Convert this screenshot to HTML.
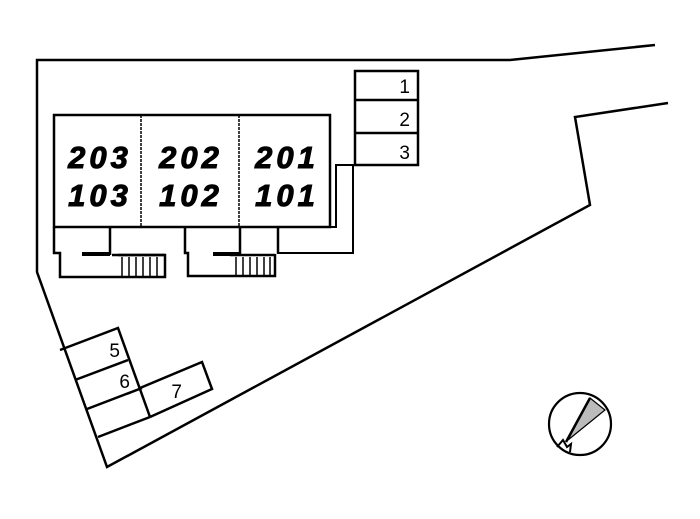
<!DOCTYPE html>
<html><head><style>body{margin:0;background:#fff}svg{display:block}</style></head><body>
<svg width="700" height="519" viewBox="0 0 700 519" xmlns="http://www.w3.org/2000/svg">
<g fill="none" stroke="#000" stroke-width="2.5" stroke-linejoin="miter">
<polyline points="655,45 510,60 37,60 37,272 107,467 590,205 575,117 668,103"/>
<polyline points="60,350 118,328 150,417"/>
<line x1="75" y1="380" x2="128" y2="360"/>
<line x1="87" y1="409" x2="142" y2="388"/>
<line x1="98" y1="437" x2="150" y2="417"/>
<polyline points="140,388 202,362 212,389 150,417"/>
<rect x="355" y="71" width="63" height="94"/>
<line x1="355" y1="100" x2="418" y2="100"/>
<line x1="355" y1="133" x2="418" y2="133"/>
<rect x="54" y="115" width="276" height="112"/>
<line x1="141" y1="115" x2="141" y2="227" stroke-width="1.5" stroke-dasharray="3,1"/>
<line x1="239" y1="115" x2="239" y2="227" stroke-width="1.5" stroke-dasharray="3,1"/>
<polyline points="330,227 336,227 336,165 355,165" stroke-width="2"/>
<polyline points="353,165 353,253 278,253" stroke-width="2"/>
<polyline points="54,227 54,253 60,253 60,277 165,277 165,255 112,255"/>
<line x1="110" y1="227" x2="110" y2="255"/>
<polyline points="185,227 185,253 188,253 188,276 275,276 275,254"/>
<line x1="240" y1="227" x2="240" y2="254"/>
<line x1="278" y1="227" x2="278" y2="254"/>
<g stroke-width="1.5">
<line x1="122" y1="257" x2="122" y2="276"/><line x1="129" y1="257" x2="129" y2="276"/><line x1="136" y1="257" x2="136" y2="276"/><line x1="143" y1="257" x2="143" y2="276"/><line x1="150" y1="257" x2="150" y2="276"/><line x1="157" y1="257" x2="157" y2="276"/>
<line x1="236" y1="257" x2="236" y2="275"/><line x1="243" y1="257" x2="243" y2="275"/><line x1="250" y1="257" x2="250" y2="275"/><line x1="257" y1="257" x2="257" y2="275"/><line x1="264" y1="257" x2="264" y2="275"/><line x1="270" y1="257" x2="270" y2="275"/>
</g>
<line x1="82" y1="254" x2="110" y2="254" stroke-width="4"/>
<line x1="213" y1="254" x2="240" y2="254" stroke-width="4"/>
<line x1="118" y1="255" x2="165" y2="255"/>
<line x1="230" y1="255" x2="275" y2="255"/>
<circle cx="580" cy="424" r="31" stroke-width="2.2"/>
<polygon points="590,398 605,410 568,440" fill="#bbb" stroke-width="1.2"/>
<line x1="590" y1="398" x2="566" y2="442" stroke-width="2.5"/>
<polyline points="557,447 563,440 567,447 571,444 570,452" stroke-width="2"/>
</g>
<g font-family="Liberation Sans, sans-serif" font-weight="bold" font-style="italic" font-size="31" text-anchor="middle" letter-spacing="4" stroke="#000" stroke-width="1">
<text x="100" y="168">203</text><text x="100" y="206">103</text>
<text x="191" y="168">202</text><text x="191" y="206">102</text>
<text x="287" y="168">201</text><text x="287" y="206">101</text>
</g>
<g font-family="Liberation Sans, sans-serif" font-size="19" text-anchor="end">
<text x="410" y="93">1</text><text x="410" y="126">2</text><text x="410" y="159">3</text>
<text x="120" y="357">5</text><text x="130" y="388">6</text>
<text x="182" y="398">7</text>
</g>
</svg>
</body></html>
